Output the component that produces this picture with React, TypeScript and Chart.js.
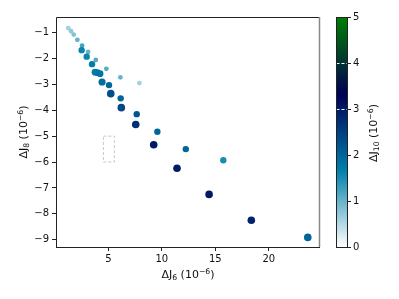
import React, { useEffect, useRef } from "react";
import { Chart, registerables } from "chart.js";
Chart.register(...registerables);

const j6Values = [1.25, 1.51, 1.76, 2.10, 2.54, 2.50, 3.10, 2.97, 3.82, 3.47, 4.81, 3.75, 3.97, 4.22, 6.12, 7.90, 4.41, 5.06, 5.22, 6.15, 6.21, 7.65, 7.56, 9.58, 9.24, 12.24, 15.75, 11.42, 14.42, 18.37, 23.65];
const j8Values = [-0.83, -0.95, -1.08, -1.28, -1.51, -1.68, -1.75, -1.93, -2.06, -2.22, -2.40, -2.53, -2.55, -2.59, -2.73, -2.95, -2.91, -3.03, -3.36, -3.54, -3.90, -4.15, -4.55, -4.83, -5.33, -5.50, -5.93, -6.24, -7.25, -8.25, -8.91];
const j10Values = [0.6, 0.7, 0.8, 1.0, 1.2, 1.6, 1.0, 1.6, 1.1, 1.7, 1.1, 1.7, 1.8, 1.8, 1.0, 0.6, 1.9, 2.0, 2.3, 2.0, 2.4, 2.2, 2.7, 2.0, 3.0, 2.0, 1.5, 3.0, 3.0, 2.9, 2.0];
const markerSizes = [2.4, 2.4, 2.4, 2.4, 2.4, 3.2, 2.4, 3.2, 2.4, 3.2, 2.4, 3.4, 3.4, 3.4, 2.4, 2.4, 3.6, 3.2, 3.8, 3.2, 3.8, 3.2, 3.8, 3.2, 3.8, 3.2, 3.2, 3.8, 3.8, 3.8, 3.8];
const xTicks = [5, 10, 15, 20];
const yTicks = [-1, -2, -3, -4, -5, -6, -7, -8, -9];
const cbTicks = [0, 1, 2, 3, 4, 5];
const cbMarks = [3, 4];
const boxX = [4.53, 5.56];
const boxY = [-5.0, -6.0];

const VMAX = 5;
function oceanR(v: number): string {
  const t = 1 - Math.max(0, Math.min(VMAX, v)) / VMAX;
  const r = Math.max(0, Math.min(1, 3 * t - 2));
  const g = Math.min(1, Math.abs((3 * t - 1) / 2));
  const b = t;
  return `rgb(${Math.round(r * 255)},${Math.round(g * 255)},${Math.round(b * 255)})`;
}

const FONT = "'DejaVu Sans', sans-serif";
const minus = (v: number) => String(v).replace("-", "\u2212");

// rich label: "ΔJ" + sub + " (10" + sup "−6" + ")"
function drawLabel(ctx: any, sub: string, cx: number, cy: number, rot: boolean) {
  const base = 11;
  const small = 7.7;
  const parts: [string, number, number][] = [
    ["\u0394J", base, 0],
    [sub, small, 2.2],
    [" (10", base, 0],
    ["\u22126", small, -4.2],
    [")", base, 0],
  ];
  let total = 0;
  const widths = parts.map(([t, s]) => {
    ctx.font = `${s}px ${FONT}`;
    const w = ctx.measureText(t).width;
    total += w;
    return w;
  });
  ctx.save();
  ctx.translate(cx, cy);
  if (rot) ctx.rotate(-Math.PI / 2);
  ctx.fillStyle = "#111";
  ctx.textAlign = "left";
  ctx.textBaseline = "alphabetic";
  let x = -total / 2;
  parts.forEach(([t, s, dy], i) => {
    ctx.font = `${s}px ${FONT}`;
    ctx.fillText(t, x, 4 + dy);
    x += widths[i];
  });
  ctx.restore();
}

const overlay = {
  id: "overlay",
  beforeDatasetsDraw(chart: any) {
    const { ctx, scales } = chart;
    const x = scales.x, y = scales.y;
    ctx.save();
    ctx.strokeStyle = "#c8c8c8";
    ctx.lineWidth = 1;
    ctx.setLineDash([3, 2]);
    const x0 = x.getPixelForValue(boxX[0]), x1 = x.getPixelForValue(boxX[1]);
    const y0 = y.getPixelForValue(boxY[0]), y1 = y.getPixelForValue(boxY[1]);
    ctx.strokeRect(x0, y0, x1 - x0, y1 - y0);
    ctx.restore();
  },
  afterDraw(chart: any) {
    const { ctx, chartArea } = chart;
    ctx.save();
    ctx.lineWidth = 1;
    ctx.strokeStyle = "#222";
    ctx.beginPath();
    ctx.moveTo(chartArea.left + 0.5, chartArea.bottom + 0.5);
    ctx.lineTo(chartArea.left + 0.5, chartArea.top + 0.5);
    ctx.lineTo(chartArea.right + 0.5, chartArea.top + 0.5);
    ctx.stroke();
    ctx.beginPath();
    ctx.moveTo(chartArea.left, chartArea.bottom + 0.5);
    ctx.lineTo(chartArea.right + 1, chartArea.bottom + 0.5);
    ctx.stroke();
    ctx.strokeStyle = "#888";
    ctx.lineWidth = 1.5;
    ctx.beginPath();
    ctx.moveTo(chartArea.right + 0.5, chartArea.top);
    ctx.lineTo(chartArea.right + 0.5, chartArea.bottom);
    ctx.stroke();

    drawLabel(ctx, "6", 188, 274, false);
    drawLabel(ctx, "8", 23, 132, true);

    const cbL = 336.5, cbR = 347.5, cbT = chartArea.top, cbB = chartArea.bottom;
    const grad = ctx.createLinearGradient(0, cbB, 0, cbT);
    for (let i = 0; i <= 50; i++) {
      grad.addColorStop(i / 50, oceanR((i / 50) * VMAX));
    }
    ctx.fillStyle = grad;
    ctx.fillRect(cbL, cbT, cbR - cbL, cbB - cbT);
    const vy = (v: number) => cbB - (v / VMAX) * (cbB - cbT);
    ctx.strokeStyle = "#ffffff";
    ctx.lineWidth = 1;
    ctx.setLineDash([3, 2]);
    cbMarks.forEach((m) => {
      const py = Math.round(vy(m)) + 0.5;
      ctx.beginPath();
      ctx.moveTo(cbL, py);
      ctx.lineTo(cbR, py);
      ctx.stroke();
    });
    ctx.setLineDash([]);
    ctx.strokeStyle = "#222";
    ctx.strokeRect(cbL, cbT + 0.5, cbR - cbL, cbB - cbT);
    ctx.fillStyle = "#111";
    ctx.font = `10px ${FONT}`;
    ctx.textAlign = "left";
    ctx.textBaseline = "middle";
    cbTicks.forEach((t) => {
      const py = Math.round(vy(t)) + 0.5;
      ctx.beginPath();
      ctx.moveTo(cbR, py);
      ctx.lineTo(cbR + 3.5, py);
      ctx.stroke();
      ctx.fillText(String(t), cbR + 5.5, py);
    });
    drawLabel(ctx, "10", 373, 133, true);
    ctx.restore();
  },
};

export default function App() {
  const ref = useRef<HTMLCanvasElement>(null);
  useEffect(() => {
    if (!ref.current) return;
    const data = j6Values.map((x, i) => ({ x, y: j8Values[i] }));
    const chart = new Chart(ref.current, {
      type: "scatter",
      data: {
        datasets: [
          {
            data,
            backgroundColor: j10Values.map(oceanR),
            borderWidth: 0,
            pointRadius: markerSizes,
            pointHoverRadius: markerSizes,
          },
        ],
      },
      options: {
        animation: false,
        responsive: false,
        events: [],
        layout: { padding: { left: 0, top: 17, right: 80, bottom: 0 } },
        plugins: { legend: { display: false }, tooltip: { enabled: false } },
        scales: {
          x: {
            type: "linear",
            min: 0.1,
            max: 24.7,
            afterBuildTicks: (s: any) => { s.ticks = xTicks.map((v) => ({ value: v })); },
            afterFit: (s: any) => { s.height = 52; },
            grid: { drawOnChartArea: false, drawTicks: true, tickLength: 4, color: "#222" },
            border: { display: false },
            ticks: { color: "#111", font: { family: FONT, size: 10 }, padding: 2, maxRotation: 0, autoSkip: false },
          },
          y: {
            type: "linear",
            min: -9.28,
            max: -0.4,
            afterBuildTicks: (s: any) => { s.ticks = yTicks.map((v) => ({ value: v })); },
            afterFit: (s: any) => { s.width = 56; },
            grid: { drawOnChartArea: false, drawTicks: true, tickLength: 4, color: "#222" },
            border: { display: false },
            ticks: {
              color: "#111",
              font: { family: FONT, size: 10 },
              padding: 3,
              autoSkip: false,
              callback: (v: any) => minus(Number(v)),
            },
          },
        },
      },
      plugins: [overlay],
    });
    return () => chart.destroy();
  }, []);
  return (
    <div style={{ position: "fixed", left: 0, top: 0, width: 399, height: 299, background: "#fff" }}>
      <canvas ref={ref} width={399} height={299} style={{ width: 399, height: 299, display: "block" }} />
    </div>
  );
}
